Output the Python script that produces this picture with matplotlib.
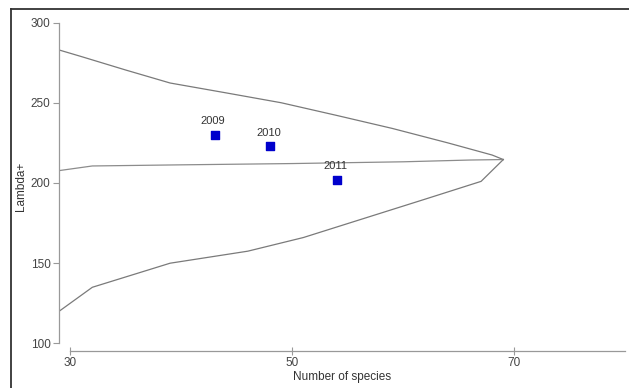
import matplotlib.pyplot as plt
from matplotlib.lines import Line2D

# funnel limits (Lambda+ vs number of species)
upper_x = [29, 31, 35, 39, 44, 49, 54, 59, 64, 68, 69]
upper_y = [282.9, 278.8, 270.4, 262.3, 256.2, 250.0, 242.1, 234.0, 225.0, 217.4, 214.6]

mean_x = [29, 32, 40, 50, 60, 66, 69]
mean_y = [207.7, 210.6, 211.3, 212.1, 213.2, 214.3, 214.6]

lower_x = [29, 32, 39, 46, 51, 62, 67, 69]
lower_y = [120.0, 135.0, 150.0, 157.5, 166.0, 190.0, 201.0, 214.6]

# sampled years
years = ["2009", "2010", "2011"]
species = [43, 48, 54]
lambda_plus = [230, 223, 202]


def main():
    plt.rcParams['font.family'] = ['Liberation Sans', 'DejaVu Sans']

    fig = plt.figure(figsize=(6.29, 3.88), dpi=100)
    ax = fig.add_axes([0.0938, 0.0954, 0.9006, 0.8466])

    line_col = "#7a7a7a"
    ax.plot(upper_x, upper_y, color=line_col, lw=0.9)
    ax.plot(mean_x, mean_y, color="#8c8c8c", lw=0.9)
    ax.plot(lower_x, lower_y, color=line_col, lw=0.9)

    ax.scatter(species, lambda_plus, marker="s", s=34, color="#0000cc", zorder=3)
    for yr, sx, ly in zip(years, species, lambda_plus):
        ax.annotate(yr, (sx, ly), xytext=(-1, 6), textcoords="offset points",
                    ha="center", va="bottom", fontsize=8, color="#333333")

    ax.set_xlim(29, 80)
    ax.set_ylim(95.3, 300)

    for side in ["top", "right"]:
        ax.spines[side].set_visible(False)
    ax.spines["left"].set_bounds(100, 300)
    ax.spines["bottom"].set_bounds(30, 80)
    for side in ["left", "bottom"]:
        ax.spines[side].set_color("#999999")
        ax.spines[side].set_linewidth(0.9)

    ax.set_xticks([30, 50, 70])
    ax.set_yticks([100, 150, 200, 250, 300])
    ax.tick_params(axis="y", direction="out", length=4, width=0.8,
                   color="#999999", labelsize=8.5, labelcolor="#444444", pad=2)
    ax.tick_params(axis="x", direction="inout", length=6, width=0.8,
                   color="#999999", labelsize=8.5, labelcolor="#444444", pad=1)

    ax.set_xlabel("Number of species", fontsize=8.5, color="#333333", labelpad=2)
    ax.set_ylabel("Lambda+", fontsize=8.5, color="#333333", labelpad=3)

    # outer frame, only left and top edges visible
    fig.add_artist(Line2D([11 / 629, 11 / 629], [0, 1 - 8.5 / 388],
                          transform=fig.transFigure, color="#333333", lw=1.3))
    fig.add_artist(Line2D([11 / 629, 1], [1 - 8.5 / 388, 1 - 8.5 / 388],
                          transform=fig.transFigure, color="#333333", lw=1.3))

    fig.savefig("out.png", dpi=100)


if __name__ == '__main__':
    main()
